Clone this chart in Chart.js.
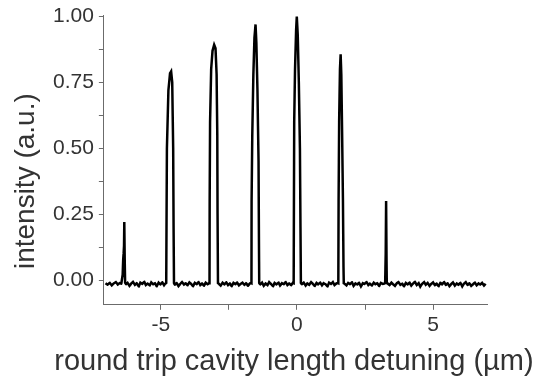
<!DOCTYPE html>
<html>
<head>
<meta charset="utf-8">
<script src="https://cdn.jsdelivr.net/npm/chart.js@4"></script>
<style>
  html, body { margin: 0; padding: 0; background: #fff; }
  #wrap { width: 536px; height: 378px; }
</style>
</head>
<body>
<div id="wrap"><canvas id="c"></canvas></div>
<script>
// round trip cavity length detuning (um) and measured intensity (a.u.)
const detuning = [
  -7.03, -6.95, -6.88, -6.80, -6.73, -6.65, -6.58, -6.50, -6.45,
  -6.40, -6.38, -6.365, -6.35, -6.34, -6.325, -6.31,
  -6.28, -6.22, -6.15, -6.08, -6.02, -5.95, -5.88, -5.81, -5.75, -5.68, -5.61, -5.55, -5.48, -5.41, -5.35, -5.28, -5.21, -5.15, -5.08, -5.01, -4.95, -4.88, -4.83,
  -4.80, -4.79, -4.775, -4.72, -4.66, -4.62, -4.58, -4.545, -4.53, -4.515,
  -4.48, -4.42, -4.35, -4.28, -4.22, -4.15, -4.08, -4.02, -3.95, -3.88, -3.82, -3.75, -3.68, -3.62, -3.55, -3.48, -3.42, -3.35, -3.28, -3.23,
  -3.21, -3.205, -3.19, -3.15, -3.10, -3.04, -2.99, -2.95, -2.925, -2.915, -2.90,
  -2.86, -2.80, -2.73, -2.66, -2.60, -2.53, -2.46, -2.40, -2.33, -2.26, -2.20, -2.13, -2.06, -2.00, -1.93, -1.86, -1.80, -1.73, -1.69,
  -1.67, -1.665, -1.64, -1.60, -1.56, -1.52, -1.49, -1.45, -1.41, -1.395, -1.385,
  -1.35, -1.28, -1.22, -1.15, -1.08, -1.02, -0.95, -0.88, -0.82, -0.75, -0.68, -0.62, -0.55, -0.48, -0.42, -0.35, -0.28, -0.22, -0.15,
  -0.12, -0.11, -0.10, -0.07, -0.03, -0.005, 0.03, 0.07, 0.11, 0.13, 0.145,
  0.18, 0.25, 0.32, 0.38, 0.45, 0.52, 0.58, 0.65, 0.72, 0.78, 0.85, 0.92, 0.98, 1.05, 1.12, 1.18, 1.25, 1.32, 1.38, 1.45, 1.50,
  1.52, 1.53, 1.55, 1.58, 1.605, 1.63, 1.66, 1.69, 1.71, 1.72,
  1.75, 1.82, 1.88, 1.95, 2.02, 2.08, 2.15, 2.22, 2.28, 2.35, 2.42, 2.48, 2.55, 2.62, 2.68, 2.75, 2.82, 2.88, 2.95, 3.02, 3.08, 3.15, 3.21,
  3.24, 3.26, 3.275, 3.29, 3.30,
  3.33, 3.40, 3.47, 3.53, 3.60, 3.67, 3.73, 3.80, 3.87, 3.93, 4.00, 4.07, 4.13, 4.20, 4.27, 4.33, 4.40, 4.47, 4.53, 4.60,
  4.67, 4.73, 4.80, 4.87, 4.93, 5.00, 5.07, 5.13, 5.20, 5.27, 5.33, 5.40, 5.47, 5.53, 5.60, 5.67, 5.73, 5.80, 5.87, 5.93,
  6.00, 6.07, 6.13, 6.20, 6.27, 6.33, 6.40, 6.47, 6.53, 6.60, 6.67, 6.73, 6.80, 6.87, 6.93
];
const intensity = [
  -0.012, -0.018, -0.010, -0.020, -0.013, -0.008, -0.017, -0.011, -0.014,
  0.02, 0.08, 0.10, 0.13, 0.22, 0.08, -0.01,
  -0.016, -0.011, -0.022, -0.013, -0.007, -0.018, -0.012, -0.025, -0.010, -0.015, -0.006, -0.019, -0.013, -0.021, -0.009, -0.016, -0.012, -0.024, -0.010, -0.017, -0.008, -0.020, -0.013,
  -0.012, 0.2, 0.5, 0.72, 0.785, 0.792, 0.75, 0.5, 0.2, -0.012,
  -0.018, -0.011, -0.023, -0.014, -0.008, -0.017, -0.012, -0.020, -0.009, -0.015, -0.024, -0.011, -0.016, -0.007, -0.019, -0.013, -0.022, -0.010, -0.016, -0.012,
  -0.012, 0.3, 0.6, 0.80, 0.87, 0.893, 0.88, 0.78, 0.55, 0.25, -0.012,
  -0.015, -0.021, -0.010, -0.017, -0.008, -0.019, -0.013, -0.024, -0.011, -0.016, -0.009, -0.020, -0.014, -0.010, -0.018, -0.012, -0.022, -0.013, -0.011,
  -0.012, 0.3, 0.55, 0.78, 0.92, 0.97, 0.90, 0.72, 0.45, 0.15, -0.012,
  -0.017, -0.010, -0.022, -0.013, -0.019, -0.008, -0.015, -0.024, -0.011, -0.017, -0.009, -0.021, -0.012, -0.016, -0.007, -0.019, -0.013, -0.020, -0.011,
  -0.012, 0.3, 0.6, 0.80, 0.95, 1.0, 0.93, 0.75, 0.5, 0.2, -0.012,
  -0.016, -0.010, -0.021, -0.013, -0.018, -0.008, -0.014, -0.023, -0.011, -0.017, -0.009, -0.020, -0.012, -0.016, -0.025, -0.010, -0.015, -0.008, -0.019, -0.013, -0.011,
  -0.012, 0.3, 0.6, 0.80, 0.857, 0.78, 0.55, 0.3, 0.05, -0.012,
  -0.014, -0.020, -0.011, -0.016, -0.008, -0.022, -0.013, -0.017, -0.010, -0.024, -0.012, -0.015, -0.007, -0.019, -0.013, -0.021, -0.010, -0.016, -0.012, -0.023, -0.011, -0.015, -0.013,
  -0.012, 0.10, 0.30, 0.08, -0.012,
  -0.013, -0.019, -0.010, -0.016, -0.022, -0.012, -0.008, -0.018, -0.014, -0.024, -0.011, -0.017, -0.009, -0.021, -0.013, -0.006, -0.019, -0.012, -0.025, -0.014,
  -0.008, -0.018, -0.011, -0.022, -0.015, -0.009, -0.020, -0.013, -0.024, -0.010, -0.017, -0.007, -0.019, -0.012, -0.023, -0.015, -0.009, -0.021, -0.013, -0.018,
  -0.010, -0.024, -0.014, -0.008, -0.019, -0.012, -0.022, -0.016, -0.009, -0.020, -0.013, -0.017, -0.011, -0.021, -0.014
];

// axis ticks: labelled ones plus unlabelled minor marks
const xTicks = [-5, -2.5, 0, 2.5, 5];
const xLabels = [-5, 0, 5];
const yTicks = [0, 0.125, 0.25, 0.375, 0.5, 0.625, 0.75, 0.875, 1.0];
const yLabels = [0, 0.25, 0.5, 0.75, 1.0];

const xTitle = "round trip cavity length detuning (µm)";
const yTitle = "intensity (a.u.)";

const axisColor = "#6b6b6b";
const textColor = "#333";
const fontFamily = "'Liberation Sans', Arial, sans-serif";

// the built-in scale title squeezes text to the axis width, the original title runs past it
const axisTitles = {
  id: "axisTitles",
  afterDraw(chart) {
    const ctx = chart.ctx;
    const area = chart.chartArea;
    ctx.save();
    ctx.fillStyle = textColor;
    ctx.textAlign = "center";
    ctx.textBaseline = "alphabetic";
    ctx.font = "29px " + fontFamily;
    ctx.fillText(xTitle, (area.left + area.right) / 2 - 1.5, area.bottom + 65);
    ctx.font = "28px " + fontFamily;
    ctx.translate(area.left - 70, (area.top + area.bottom) / 2 + 21);
    ctx.rotate(-Math.PI / 2);
    ctx.fillText(yTitle, 0, 0);
    ctx.restore();
  },
};

new Chart(document.getElementById("c"), {
  type: "line",
  data: {
    datasets: [
      {
        data: detuning.map((x, i) => ({ x: x, y: intensity[i] })),
        borderColor: "#000",
        borderWidth: 2.5,
        pointRadius: 0,
        tension: 0.0001, // keeps Chart.js off its per-pixel fast path, so narrow peaks draw right
        fill: false,
      },
    ],
  },
  plugins: [axisTitles],
  options: {
    responsive: true,
    maintainAspectRatio: false,
    animation: false,
    layout: { padding: { left: 48, right: 49, top: 9, bottom: 37 } },
    plugins: {
      legend: { display: false },
      tooltip: { enabled: false },
    },
    scales: {
      x: {
        type: "linear",
        min: -7.09,
        max: 6.98,
        afterBuildTicks: (axis) => {
          axis.ticks = xTicks.map((v) => ({ value: v }));
        },
        ticks: {
          autoSkip: false,
          maxRotation: 0,
          color: textColor,
          font: { family: fontFamily, size: 21 },
          padding: 3,
          callback: (v) => (xLabels.includes(v) ? String(v) : ""),
        },
        grid: { display: true, drawOnChartArea: false, drawTicks: true, tickLength: 5, color: axisColor },
        border: { display: true, color: axisColor, width: 1 },
      },
      y: {
        type: "linear",
        min: -0.094,
        max: 1.004,
        afterBuildTicks: (axis) => {
          axis.ticks = yTicks.map((v) => ({ value: v }));
        },
        ticks: {
          autoSkip: false,
          color: textColor,
          font: { family: fontFamily, size: 21, lineHeight: 1 },
          padding: 5,
          callback: (v) => (yLabels.includes(v) ? v.toFixed(2) : ""),
        },
        grid: { display: true, drawOnChartArea: false, drawTicks: true, tickLength: 5, color: axisColor },
        border: { display: true, color: axisColor, width: 1 },
      },
    },
  },
});
</script>
</body>
</html>
